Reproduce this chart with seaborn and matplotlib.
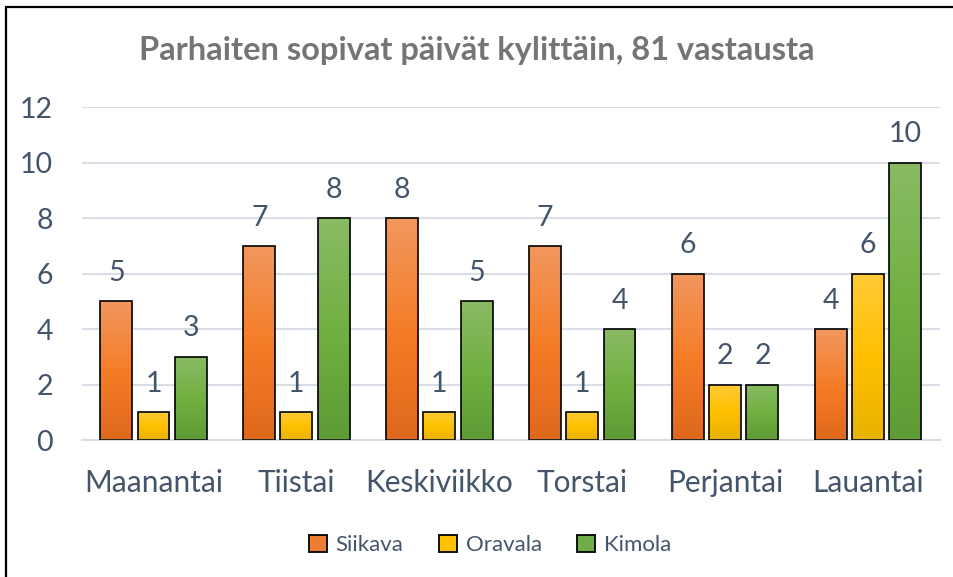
import numpy as np
import pandas as pd
import matplotlib
matplotlib.use("Agg")
import matplotlib.pyplot as plt
from matplotlib.colors import LinearSegmentedColormap
from matplotlib.patches import Patch
from matplotlib.lines import Line2D
import seaborn as sns

# data
paivat = ["Maanantai", "Tiistai", "Keskiviikko", "Torstai", "Perjantai", "Lauantai"]
kylat = ["Siikava", "Oravala", "Kimola"]
siikava = [5, 7, 8, 7, 6, 4]
oravala = [1, 1, 1, 1, 2, 6]
kimola = [3, 8, 5, 4, 2, 10]

colors = {"Siikava": "#ED7D31", "Oravala": "#FFC000", "Kimola": "#70AD47"}
gradients = {
    "Siikava": ["#F1975E", "#F57D28", "#E0681C"],
    "Oravala": ["#FFCB36", "#FFC000", "#E9B200"],
    "Kimola": ["#88BB64", "#72B042", "#5E9B35"],
}
txt = "#44546A"

df = pd.DataFrame({
    "paiva": paivat * 3,
    "kyla": [k for k in kylat for _ in paivat],
    "lkm": siikava + oravala + kimola,
})

sns.set_style("white")
plt.rcParams["font.family"] = ["Lato", "DejaVu Sans"]

fig = plt.figure(figsize=(9.54, 5.77), dpi=100)
ax = fig.add_axes([0.086, 0.2374, 0.899, 0.5771])

sns.barplot(data=df, x="paiva", y="lkm", hue="kyla", hue_order=kylat,
            palette=colors, width=0.78, gap=0.14, edgecolor="black",
            linewidth=1.2, legend=False, ax=ax)

# gradient fill (light top -> dark bottom), clipped to each bar
for i, cont in enumerate(ax.containers):
    cmap = LinearSegmentedColormap.from_list("g", gradients[kylat[i]])
    for bar in cont:
        x0, w, h = bar.get_x(), bar.get_width(), bar.get_height()
        grad = np.linspace(0, 1, 100).reshape(-1, 1)
        im = ax.imshow(grad, cmap=cmap, aspect="auto", origin="upper",
                       extent=(x0, x0 + w, 0, h), zorder=2)
        im.set_clip_path(bar)
        bar.set_facecolor("none")
        bar.set_zorder(3)
    ax.bar_label(cont, padding=11, fontsize=20.5, color=txt)

ax.set_xlim(-0.5, 5.5)
ax.set_ylim(0, 12)
ax.set_yticks(range(0, 13, 2))
ax.yaxis.grid(True, color="#D9DDE6", linewidth=1.5)
ax.set_axisbelow(True)
for s in ["left", "right", "top"]:
    ax.spines[s].set_visible(False)
ax.spines["bottom"].set_color("#D9DDE6")
ax.spines["bottom"].set_linewidth(1.5)
ax.tick_params(axis="x", length=0, pad=21, labelsize=21.5, labelcolor=txt)
ax.tick_params(axis="y", length=0, pad=21, labelsize=20.5, labelcolor=txt)
ax.set_xlabel("")
ax.set_ylabel("")

fig.text(0.5, 0.912, "Parhaiten sopivat päivät kylittäin, 81 vastausta",
         ha="center", va="center", fontsize=23.5, fontweight="bold", color="#757575")

handles = [Patch(facecolor=colors[k], edgecolor="black", linewidth=1.3) for k in kylat]
fig.legend(handles, kylat, loc="center", bbox_to_anchor=(490 / 954, 1 - 545 / 577),
           ncol=3, frameon=False, fontsize=16, labelcolor=txt,
           handlelength=0.8, handleheight=0.8, handletextpad=0.4, columnspacing=1.6)

# chart frame (left and top edges visible)
fig.add_artist(Line2D([6.5 / 954, 6.5 / 954], [0, 1 - 7 / 577], color="black", lw=1.6))
fig.add_artist(Line2D([6.5 / 954, 1], [1 - 7 / 577, 1 - 7 / 577], color="black", lw=1.6))

fig.savefig("out.png", dpi=100)
